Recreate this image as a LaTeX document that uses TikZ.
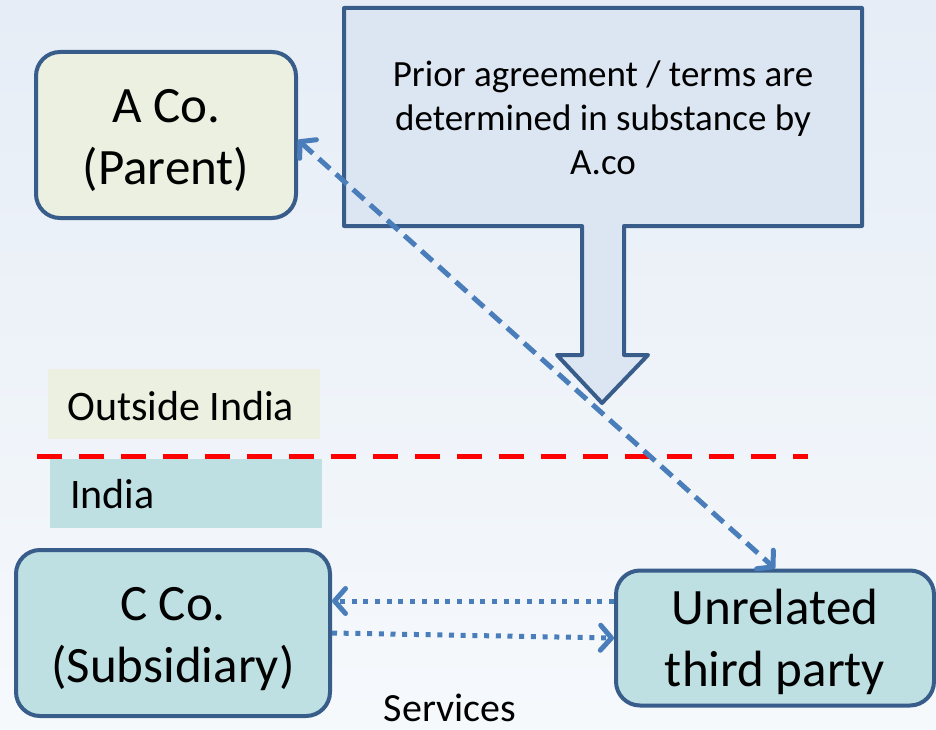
\documentclass[tikz,border=0pt]{standalone}
\usepackage{fontspec}
\setmainfont{Carlito}
\usetikzlibrary{arrows.meta,calc}

\definecolor{bgtop}{HTML}{E6EDF6}
\definecolor{bgbot}{HTML}{F6F9FC}
\definecolor{edge}{HTML}{385D8A}
\definecolor{olivefill}{HTML}{EBF0E0}
\definecolor{tealfill}{HTML}{BFE0E3}
\definecolor{calloutfill}{HTML}{DCE6F2}
\definecolor{linkblue}{HTML}{4A7EBB}

\tikzset{
  entity/.style={draw=edge, line width=4pt, rounded corners=24pt, inner sep=0pt},
  entitytext/.style={align=center, inner sep=0pt, font=\fontsize{51}{62}\selectfont},
  zonebox/.style={inner sep=0pt, anchor=north west},
  zonetext/.style={inner sep=0pt, anchor=base west, font=\fontsize{42}{50}\selectfont},
  barb/.tip={Straight Barb[length=11pt,width=25pt,line cap=round,line join=round]},
  dashlink/.style={draw=linkblue, line width=5pt, dash pattern=on 15pt off 8pt},
  dotlink/.style={draw=linkblue, line width=5pt, dash pattern=on 5pt off 6.7pt},
}

\begin{document}
\begin{tikzpicture}[x=1pt,y=-1pt]
  % page and background
  \useasboundingbox (0,0) rectangle (936,730);
  \shade[top color=bgtop, bottom color=bgbot] (0,0) rectangle (936,730);

  % parent company
  \node[entity, fill=olivefill, minimum width=260pt, minimum height=166pt]
    (A) at (166,135) {};
  \node[entitytext] (Atext) at ([yshift=-5pt]A.center) {A Co.\\(Parent)};

  % down-arrow callout
  \draw[draw=edge, fill=calloutfill, line width=4pt, line join=round]
    (344,8) -- (862,8) -- (862,226) -- (624,226) -- (624,355) -- (648,355)
    -- (602,403) -- (557,355) -- (582,355) -- (582,226) -- (344,226) -- cycle;
  \node[align=center, font=\fontsize{37}{44}\selectfont] (note) at (603,118)
    {Prior agreement / terms are\\determined in substance by\\A.co};

  % zone labels and border line
  \node[zonebox, fill=olivefill, minimum width=272pt, minimum height=70pt]
    (outside) at (48,369) {};
  \node[zonetext] (outsidetext) at (67,420) {Outside India};
  \node[zonebox, fill=tealfill, minimum width=272pt, minimum height=69pt]
    (india) at (50,459) {};
  \node[zonetext] (indiatext) at (70,508) {India};
  \coordinate (borderL) at (37,456);
  \coordinate (borderR) at (808,456);
  \draw[red, line width=5pt, dash pattern=on 25pt off 17pt] (borderL) -- (borderR);

  % Indian entities
  \node[entity, fill=tealfill, minimum width=314pt, minimum height=166pt]
    (C) at (173,633) {};
  \node[entitytext] (Ctext) at ([yshift=-6pt]C.center) {C Co.\\(Subsidiary)};
  \node[entity, fill=tealfill, minimum width=318pt, minimum height=135pt]
    (U) at (775,638) {};
  \node[entitytext] (Utext) at ([yshift=-4pt]U.center) {Unrelated\\third party};

  % connectors
  \draw[dashlink, barb-barb] ([yshift=-5pt]A.east) -- (U.north);
  \draw[dotlink, -barb] ([yshift=37pt]U.west) -- ([yshift=32pt]C.east);
  \draw[dotlink, -barb] (C.east) -- (U.west);

  \node[anchor=base, inner sep=0pt, font=\fontsize{40}{48}\selectfont]
    (services) at (450,721) {Services};
\end{tikzpicture}
\end{document}
